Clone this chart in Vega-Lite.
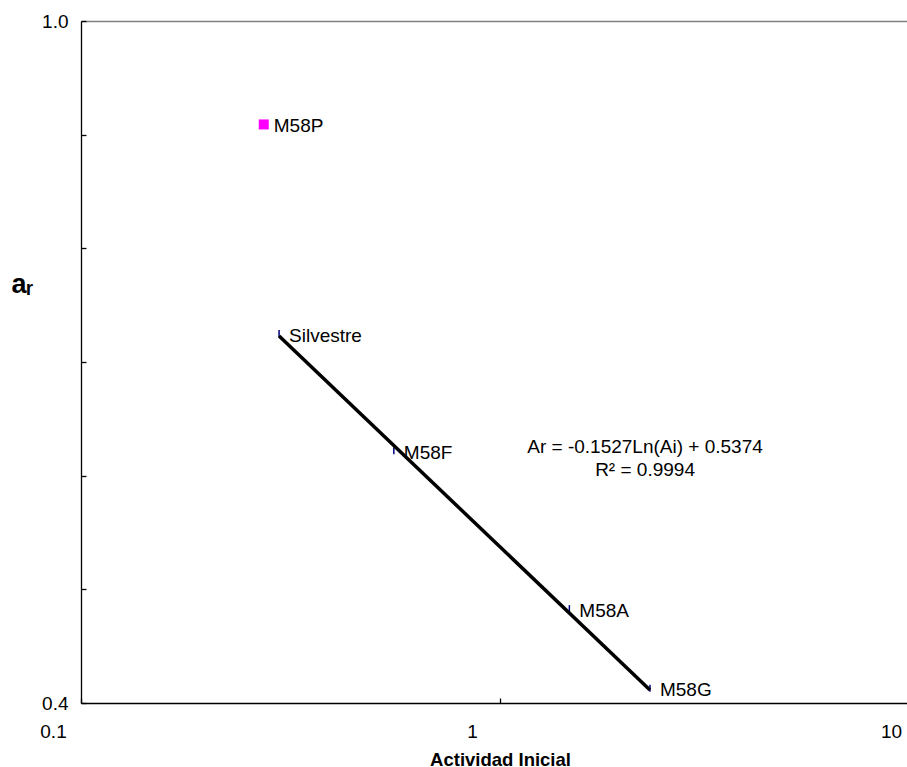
{
  "$schema": "https://vega.github.io/schema/vega-lite/v6.json",
  "autosize": "none",
  "width": 826,
  "height": 682,
  "padding": {"left": 81, "top": 21, "right": 0, "bottom": 64},
  "background": "white",
  "config": {
    "font": "Liberation Sans",
    "view": {"stroke": null},
    "axis": {
      "grid": false,
      "domainColor": "black",
      "domainWidth": 1.3,
      "tickColor": "black",
      "tickWidth": 1.3,
      "labelColor": "black",
      "titleColor": "black",
      "labelFont": "Liberation Sans",
      "titleFont": "Liberation Sans",
      "labelFontSize": 19,
      "labelFontWeight": "normal"
    }
  },
  "datasets": {
    "muestras": [
      {"muestra": "M58P", "ai": 0.273, "ar": 0.909, "serie": "aparte"},
      {"muestra": "Silvestre", "ai": 0.297, "ar": 0.725, "serie": "ajuste"},
      {"muestra": "M58F", "ai": 0.558, "ar": 0.622, "serie": "ajuste"},
      {"muestra": "M58A", "ai": 1.464, "ar": 0.483, "serie": "ajuste"},
      {"muestra": "M58G", "ai": 2.28, "ar": 0.413, "serie": "ajuste"}
    ],
    "tendencia": [
      {"ai": 0.297, "ar": 0.7228},
      {"ai": 2.28, "ar": 0.4115}
    ],
    "ecuacion": [
      {"ai": 2.219, "ar": 0.625, "texto": "Ar = -0.1527Ln(Ai) + 0.5374\nR² = 0.9994"}
    ]
  },
  "resolve": {"axis": {"x": "independent"}},
  "layer": [
    {
      "data": {"name": "muestras"},
      "transform": [{"filter": "datum.serie == 'ajuste'"}],
      "mark": {"type": "tick", "orient": "vertical", "size": 7, "thickness": 1.5, "color": "#000080", "opacity": 1},
      "encoding": {
        "x": {
          "field": "ai", "type": "quantitative",
          "scale": {"type": "log", "domain": [0.1, 10], "range": [0, 838], "nice": false},
          "axis": {
            "orient": "bottom",
            "values": [0.1, 1, 10],
            "format": "~g",
            "tickSize": -5,
            "labelPadding": 24,
            "labelOffset": -28,
            "labelFlush": false,
            "labelOverlap": false,
            "title": "Actividad Inicial",
            "titleFontSize": 18.5,
            "titleFontWeight": "bold",
            "titleBaseline": "alphabetic",
            "titleY": 62.5
          }
        },
        "y": {
          "field": "ar", "type": "quantitative",
          "scale": {"domain": [0.4, 1.0], "nice": false, "zero": false},
          "axis": {
            "values": [0.4, 0.5, 0.6, 0.7, 0.8, 0.9, 1.0],
            "labelExpr": "datum.value < 0.45 || datum.value > 0.95 ? format(datum.value, '.1f') : ''",
            "tickSize": -5,
            "labelPadding": 18,
            "labelFlush": false,
            "labelOverlap": false,
            "title": "aᵣ",
            "titleAngle": 0,
            "titleAlign": "left",
            "titleBaseline": "alphabetic",
            "titleX": -70,
            "titleY": 271,
            "titleFontSize": 27,
            "titleFontWeight": "bold"
          }
        }
      }
    },
    {
      "data": {"name": "muestras"},
      "transform": [{"filter": "datum.serie == 'aparte'"}],
      "mark": {"type": "square", "size": 100, "filled": true, "color": "#FF00FF", "opacity": 1},
      "encoding": {
        "x": {"field": "ai", "type": "quantitative", "axis": null},
        "y": {"field": "ar", "type": "quantitative"}
      }
    },
    {
      "data": {"name": "muestras"},
      "mark": {"type": "text", "align": "left", "baseline": "middle", "dx": 10, "dy": 2, "fontSize": 19, "color": "black"},
      "encoding": {
        "x": {"field": "ai", "type": "quantitative", "axis": null},
        "y": {"field": "ar", "type": "quantitative"},
        "text": {"field": "muestra"}
      }
    },
    {
      "data": {"name": "tendencia"},
      "mark": {"type": "line", "color": "black", "strokeWidth": 3.5},
      "encoding": {
        "x": {
          "field": "ai", "type": "quantitative",
          "axis": {"orient": "top", "labels": false, "ticks": false, "title": null, "domainColor": "#808080", "domainWidth": 1.3}
        },
        "y": {"field": "ar", "type": "quantitative"}
      }
    },
    {
      "data": {"name": "ecuacion"},
      "mark": {"type": "text", "align": "center", "baseline": "middle", "fontSize": 19, "lineBreak": "\n", "lineHeight": 23, "color": "black"},
      "encoding": {
        "x": {"field": "ai", "type": "quantitative", "axis": null},
        "y": {"field": "ar", "type": "quantitative"},
        "text": {"field": "texto"}
      }
    }
  ]
}
